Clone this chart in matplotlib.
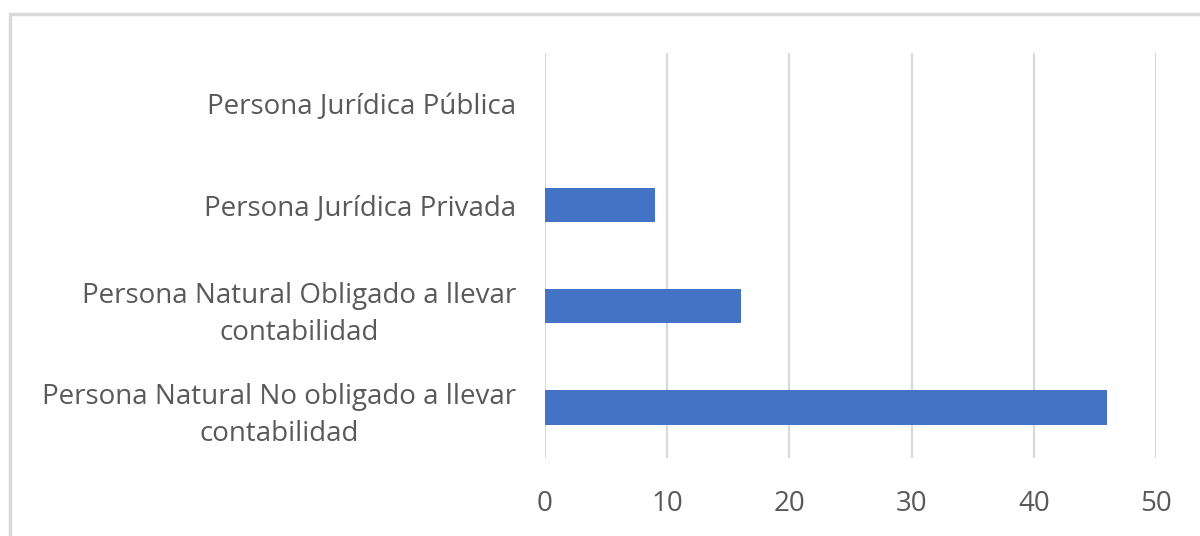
import matplotlib
matplotlib.use("Agg")
import matplotlib.pyplot as plt
from matplotlib.patches import Rectangle

categories = [
    "Persona Natural No obligado a llevar\ncontabilidad",
    "Persona Natural Obligado a llevar\ncontabilidad",
    "Persona Jurídica Privada",
    "Persona Jurídica Pública",
]
values = [46, 16, 9, 0]
xticks = [0, 10, 20, 30, 40, 50]

plt.rcParams['font.family'] = ['Open Sans', 'DejaVu Sans']

fig = plt.figure(figsize=(12, 5.36), dpi=100)
fig.patch.set_facecolor("white")

# outer chart border (light grey, only top/left visible)
fig.add_artist(Rectangle((10/1200, -0.1), 1.2, 1 - 14/536 + 0.1, transform=fig.transFigure,
                         fill=False, edgecolor="#d9d9d9", linewidth=2.5))

ax = fig.add_axes([545/1200, 1 - 458/536, (1156 - 545)/1200, (458 - 53)/536])
ypos = list(range(len(categories)))
ax.barh(ypos, values, height=0.34, color="#4472c4", zorder=3)
ax.set_xlim(0, 50)
ax.set_ylim(-0.5, len(categories) - 0.5)
ax.set_xticks(xticks)
ax.set_xticklabels([str(t) for t in xticks])
ax.set_yticks(ypos)
ax.set_yticklabels(categories, multialignment="center", linespacing=1.45)
ax.grid(axis="x", color="#d9d9d9", linewidth=1.6, zorder=0)
for s in ax.spines.values():
    s.set_visible(False)
ax.tick_params(axis="both", length=0, labelsize=20, colors="#595959")
ax.tick_params(axis="y", pad=21)
ax.tick_params(axis="x", pad=23)

fig.savefig("out.png", dpi=100, facecolor="white")
